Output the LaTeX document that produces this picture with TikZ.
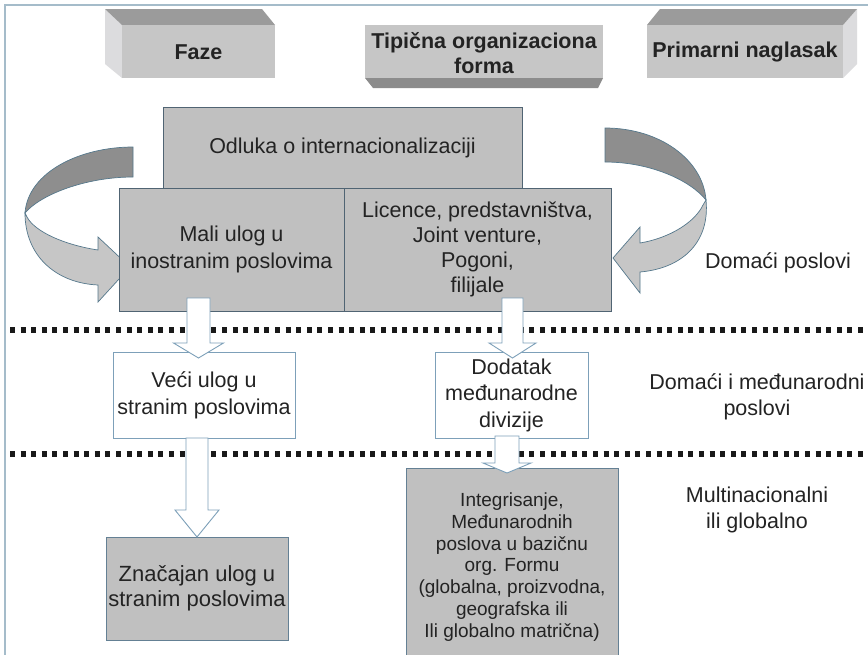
\documentclass[tikz,border=0pt]{standalone}
\usepackage{fontspec}
\setmainfont{Liberation Sans}
\usetikzlibrary{calc}
\definecolor{txt}{RGB}{35,35,35}
\definecolor{boxgray}{RGB}{192,192,192}
\definecolor{bdark}{RGB}{80,100,115}
\definecolor{blight}{RGB}{125,160,185}
\definecolor{hfront}{RGB}{198,198,198}
\definecolor{htop}{RGB}{155,155,155}
\definecolor{hside}{RGB}{220,220,222}
\definecolor{hbot}{RGB}{140,140,140}
\definecolor{cdark}{RGB}{142,142,142}
\definecolor{clight}{RGB}{198,198,198}
\definecolor{cedge}{RGB}{85,120,140}
\definecolor{frame}{RGB}{165,188,202}
\newcommand\blockarrow[5]{%
  \draw[barrow] let \p1=(#1), \p2=(#2) in
    (\x1-#3pt,\y1) -- (\x1-#3pt,\y2+#5pt) -- (\x1-#4pt,\y2+#5pt) -- (\x1,\y2)
    -- (\x1+#4pt,\y2+#5pt) -- (\x1+#3pt,\y2+#5pt) -- (\x1+#3pt,\y1) -- cycle;}
\begin{document}
\begin{tikzpicture}[x=1pt,y=-1pt,
  every node/.style={text=txt},
  hdr/.style={font={\bfseries\fontsize{21.5}{25}\selectfont}, align=center, inner sep=0pt},
  graybox/.style={draw=bdark, fill=boxgray, line width=0.8pt, align=center, inner sep=2pt,
     font={\fontsize{21.5}{25}\selectfont}},
  whitebox/.style={draw=blight, fill=white, line width=0.9pt, align=center, inner sep=2pt,
     font={\fontsize{21.5}{27}\selectfont}},
  bluebox/.style={draw=blight!80!black, fill=boxgray, line width=0.9pt, align=center, inner sep=2pt,
     font={\fontsize{22}{25}\selectfont}},
  lbl/.style={align=center, inner sep=0pt, font={\fontsize{21.5}{26}\selectfont}},
  barrow/.style={draw=blight, fill=white, line width=0.9pt},
  dotline/.style={draw=black!90, line width=5.5pt, dash pattern=on 5pt off 5.6pt},
  curv/.style={draw=cedge, line width=0.7pt}
]
\useasboundingbox (0,0) rectangle (868,654);
\fill[white] (0,0) rectangle (868,654);
% frame
\draw[frame, line width=1.6pt] (5,660) -- (5,5) -- (870,5);

% header: Faze
\fill[hside] (105,9) -- (122,25) -- (122,78) -- (105,64) -- cycle;
\fill[htop] (105,9) -- (262,9) -- (275,25) -- (122,25) -- cycle;
\fill[hfront] (122,25) rectangle (275,78);
\node[hdr] (faze) at (198.5,52) {Faze};
% header: Tipicna
\fill[hfront] (365,25) rectangle (603,78);
\fill[hbot] (365,78) -- (603,78) -- (598,88) -- (373,88) -- cycle;
\node[hdr] (tip) at (484,53) {Tipična organizaciona\\forma};
% header: Primarni
\fill[hside] (857,9) -- (857,64) -- (843,78) -- (843,25) -- cycle;
\fill[htop] (660,9) -- (857,9) -- (843,25) -- (647,25) -- cycle;
\fill[hfront] (647,25) rectangle (843,78);
\node[hdr] (prim) at (745,52) {Primarni naglasak};

% dotted separators
\draw[dotline] (10,330) -- (868,330);
\draw[dotline] (10,454) -- (868,454);

% curved arrows
\filldraw[curv, fill=cdark] (133,147) .. controls (80,147) and (28,172) .. (25,213)
   .. controls (40,195) and (85,177) .. (133,177) -- cycle;
\filldraw[curv, fill=clight] (25,213) .. controls (25,255) and (55,283) .. (98,285)
   -- (98,302) -- (130,267) -- (98,237) -- (98,250)
   .. controls (65,245) and (35,232) .. (27,217) -- cycle;
\filldraw[curv, fill=cdark] (605,128) .. controls (660,128) and (703,160) .. (706,200)
   .. controls (690,180) and (650,162) .. (605,162) -- cycle;
\filldraw[curv, fill=clight] (706,200) .. controls (710,240) and (685,268) .. (640,272)
   -- (640,293) -- (613,258) -- (640,227) -- (640,243)
   .. controls (670,238) and (695,222) .. (703,205) -- cycle;

% main boxes
\node[graybox, minimum width=359pt, minimum height=81pt] (odluka) at (342.5,147.5)
  {Odluka o internacionalizaciji};
\node[graybox, minimum width=225pt, minimum height=123pt, font={\fontsize{21.5}{27}\selectfont}] (mali) at (231.5,249.5)
  {Mali ulog u\\inostranim poslovima};
\node[graybox, minimum width=267pt, minimum height=123pt] (lic) at (477.5,249.5)
  {Licence, predstavništva,\\Joint venture,\\Pogoni,\\filijale};
\node[whitebox, minimum width=182pt, minimum height=86pt] (veci) at (204,395)
  {Veći ulog u\\stranim poslovima};
\node[whitebox, minimum width=153pt, minimum height=86pt, font={\fontsize{21.5}{26.5}\selectfont}] (dod) at (511.5,395)
  {Dodatak\\međunarodne\\divizije};
\node[bluebox, minimum width=182pt, minimum height=103pt] (znac) at (197,588.5)
  {Značajan ulog u\\stranim poslovima};
\node[bluebox, minimum width=212pt, minimum height=198pt, font={\fontsize{19}{21.7}\selectfont}] (integ) at (512,567)
  {Integrisanje,\\Međunarodnih\\poslova u bazičnu\\org. Formu\\(globalna, proizvodna,\\geografska ili\\Ili globalno matrična)};

% block arrows
\coordinate (a1s) at (198.5,298); \coordinate (a1t) at (198.5,358);
\coordinate (a2s) at (512.5,298); \coordinate (a2t) at (512.5,358);
\coordinate (a3s) at (197,438);   \coordinate (a3t) at (197,537);
\coordinate (a4s) at (507,436);   \coordinate (a4t) at (507,473);
\blockarrow{a1s}{a1t}{11.5}{25}{15}
\blockarrow{a2s}{a2t}{10.5}{23.5}{15}
\blockarrow{a3s}{a3t}{11}{22}{27}
\blockarrow{a4s}{a4t}{12}{24}{10}

% right-hand labels
\node[lbl] (dom) at (778,263) {Domaći poslovi};
\node[lbl] (dim) at (757,397) {Domaći i međunarodni\\poslovi};
\node[lbl] (multi) at (757,510) {Multinacionalni\\ili globalno};
\end{tikzpicture}
\end{document}
